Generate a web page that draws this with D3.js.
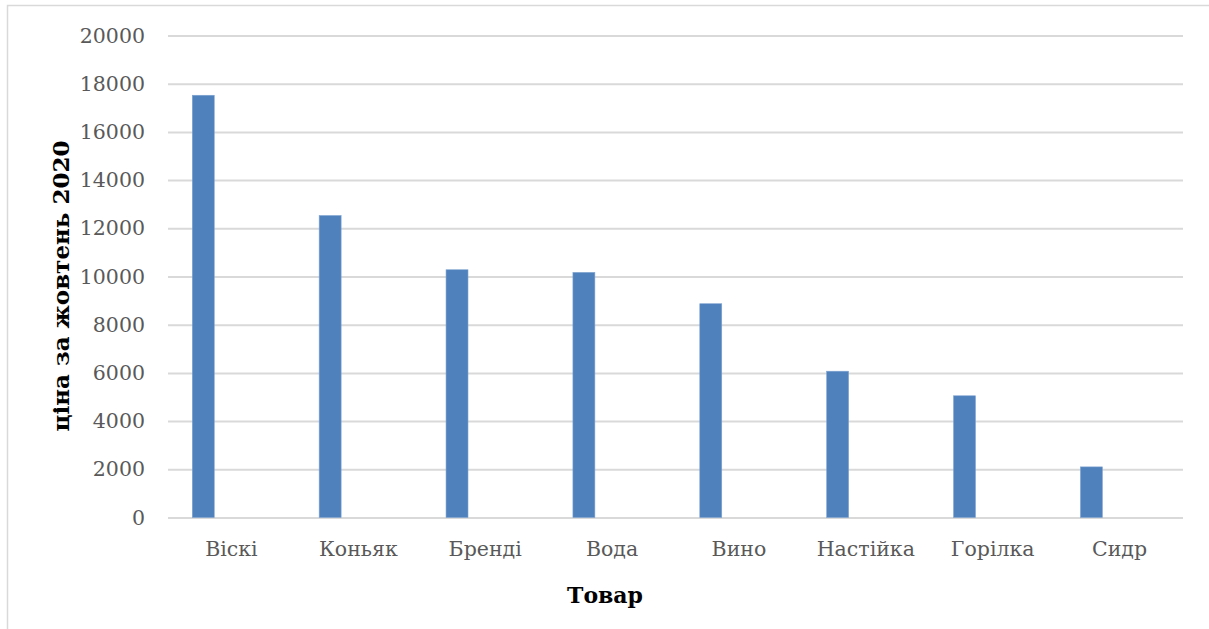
<!DOCTYPE html>
<html>
<head>
<meta charset="utf-8">
<script src="https://cdn.jsdelivr.net/npm/d3@7"></script>
<style>
  html, body { margin: 0; padding: 0; background: #fff; }
  svg { display: block; }
</style>
</head>
<body>
<svg id="chart" width="1209" height="629"></svg>
<script>
const categories = ["Віскі", "Коньяк", "Бренді", "Вода", "Вино", "Настійка", "Горілка", "Сидр"];
const values = [17520, 12530, 10280, 10170, 8870, 6070, 5050, 2100];
const yTicks = [0, 2000, 4000, 6000, 8000, 10000, 12000, 14000, 16000, 18000, 20000];
const yTitle = "ціна за жовтень 2020";
const xTitle = "Товар";

(function () {
const svg = d3.select("#chart");
const font = "'DejaVu Serif', 'Liberation Serif', serif";

// chart border
svg.append("rect")
  .attr("x", 7.5).attr("y", 5.5)
  .attr("width", 1240).attr("height", 660)
  .attr("fill", "#fff")
  .attr("stroke", "#d9d9d9").attr("stroke-width", 1.5);

const plotLeft = 168, plotRight = 1183, plotTop = 35.5, plotBottom = 517.5;

const x = d3.scaleBand().domain(categories).range([plotLeft, plotRight]).padding(0);
const y = d3.scaleLinear().domain([0, 20000]).range([plotBottom, plotTop]);

// y axis with gridlines
const yAxis = svg.append("g")
  .attr("transform", `translate(${plotLeft},0)`)
  .call(d3.axisLeft(y).tickValues(yTicks).tickFormat(d3.format("d"))
        .tickSizeInner(-(plotRight - plotLeft)).tickSizeOuter(0).tickPadding(23));
yAxis.select(".domain").remove();
yAxis.selectAll(".tick line").attr("stroke", "#d9d9d9").attr("stroke-width", 2);
yAxis.selectAll(".tick text")
  .attr("fill", "#595959")
  .style("font-family", font)
  .style("font-size", "20.5px");

// bars
const data = categories.map((c, i) => ({ c, v: values[i] }));
svg.append("g").selectAll("rect")
  .data(data).join("rect")
  .attr("x", d => x(d.c) + x.bandwidth() * 0.1915)
  .attr("width", x.bandwidth() * 0.173)
  .attr("y", d => y(d.v))
  .attr("height", d => y(0) - y(d.v))
  .attr("fill", "#4f81bd")
  .attr("stroke", "#7fa3d0").attr("stroke-width", 0.6);

// x axis labels
const xAxis = svg.append("g")
  .attr("transform", `translate(0,${plotBottom})`)
  .call(d3.axisBottom(x).tickSize(0).tickPadding(0));
xAxis.select(".domain").remove();
xAxis.selectAll(".tick text")
  .attr("y", 38.5).attr("dy", 0)
  .attr("fill", "#595959")
  .style("font-family", font)
  .style("font-size", "20.5px");

// axis titles
svg.append("text")
  .attr("transform", `translate(69,286) rotate(-90)`)
  .attr("text-anchor", "middle")
  .style("font-family", font)
  .style("font-size", "23px")
  .style("font-weight", "bold")
  .attr("fill", "#000")
  .text(yTitle);

svg.append("text")
  .attr("x", 605).attr("y", 603)
  .attr("text-anchor", "middle")
  .style("font-family", font)
  .style("font-size", "22px")
  .style("font-weight", "bold")
  .attr("fill", "#000")
  .text(xTitle);
})();
</script>
</body>
</html>
